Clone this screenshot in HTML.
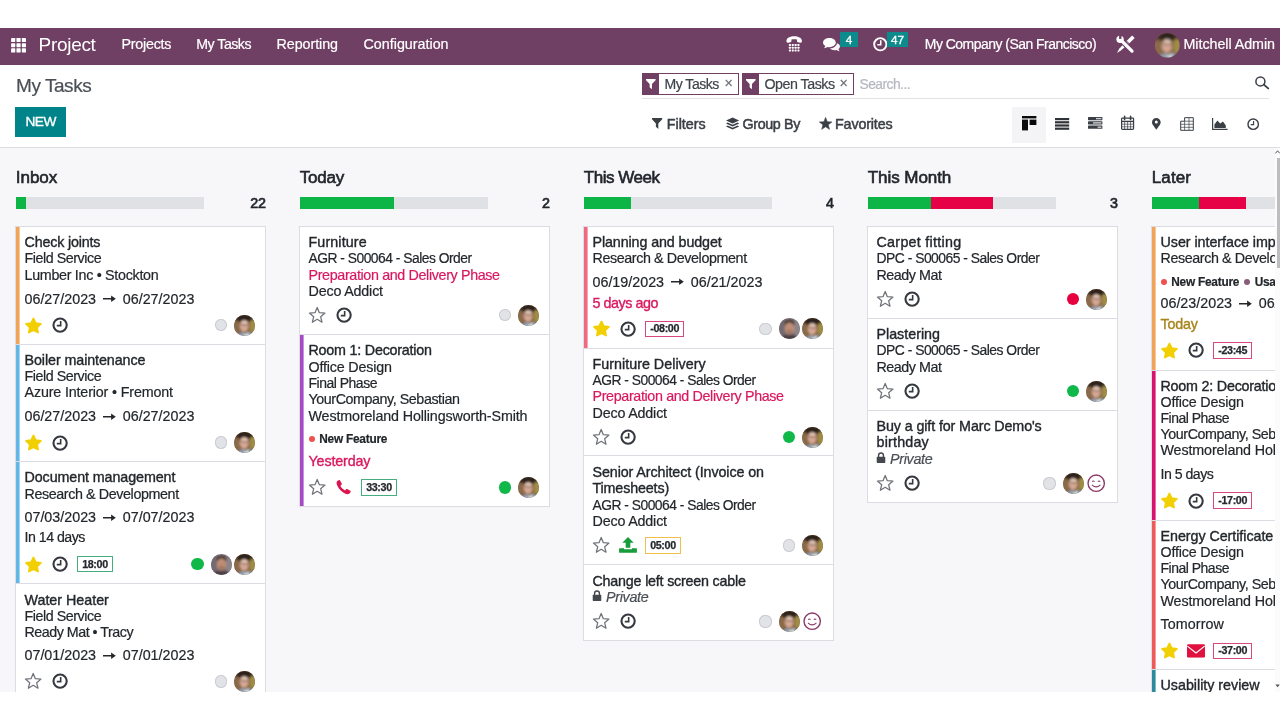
<!DOCTYPE html><html><head><meta charset="utf-8"><title>Odoo - My Tasks</title><style>
*{margin:0;padding:0;box-sizing:border-box}
html,body{width:1280px;height:720px;overflow:hidden;background:#fff}
body{font-family:"Liberation Sans",sans-serif;color:#23272b;-webkit-font-smoothing:antialiased}
#root{will-change:transform;position:absolute;left:0;top:0;width:1280px;height:720px;overflow:hidden;background:#fff}
.x{position:absolute;white-space:pre;display:block}
.i{position:absolute;overflow:visible}
#nav{position:absolute;left:0;top:28px;width:1280px;height:37.2px;background:#704064}
#cp{position:absolute;left:0;top:65.2px;width:1280px;height:82.4px;background:#fff;border-bottom:1px solid #dcdde2}
#board{position:absolute;left:0;top:148px;width:1275px;height:544px;background:#f7f7fa;overflow:hidden}
#bi{position:absolute;left:0;top:-148px;width:1500px;height:900px}
.card{position:absolute;width:251px;background:#fff;border:1px solid #dcdde3}
.bar{position:absolute;left:0;top:0;bottom:0;width:3px;display:block}
.bar:after{content:"";position:absolute;left:3px;top:0;bottom:0;width:1px;background:inherit;opacity:.6}
.dot{position:absolute;width:6px;height:6px;border-radius:50%;display:block}
.st{position:absolute;width:12.4px;height:12.4px;border-radius:50%;display:block}
.bdg{position:absolute;height:16.6px;border:1px solid;display:block;background:#fff}
.pb{position:absolute;height:11.8px;width:188px;background:#e0e1e5;top:197.3px;overflow:hidden}
.pb b{display:block;float:left;height:100%}
.pb .g{background:#0cb546}.pb .r{background:#e60046}
.facet{position:absolute;top:73.3px;height:21.5px;border:1px solid #704064;background:#fff}
.facet b{position:absolute;left:0;top:0;bottom:0;width:16.2px;background:#704064;display:block}
#sb{position:absolute;left:1275px;top:148px;width:5px;height:544px;background:#fbfbfc}
#sb b{position:absolute;left:2px;top:10px;width:3px;height:110px;background:#bdbdc0;display:block}
</style></head><body><div id="root">
<svg width="0" height="0" style="position:absolute">
<defs>
<filter id="bl" x="-10%" y="-10%" width="120%" height="120%"><feGaussianBlur stdDeviation="1.5"/></filter>
<clipPath id="cp"><circle cx="12" cy="12" r="12"/></clipPath>
<symbol id="starf" viewBox="0 0 20 20"><polygon points="10.50,2.70 13.03,7.92 18.77,8.71 14.59,12.73 15.61,18.44 10.50,15.70 5.39,18.44 6.41,12.73 2.23,8.71 7.97,7.92" fill="#f2cf00" stroke="#f2cf00" stroke-width="1.9" stroke-linejoin="round"/></symbol>
<symbol id="staro" viewBox="0 0 20 20"><polygon points="10.20,1.60 12.61,7.38 18.85,7.89 14.10,11.97 15.55,18.06 10.20,14.80 4.85,18.06 6.30,11.97 1.55,7.89 7.79,7.38" fill="none" stroke="#70747a" stroke-width="1.4" stroke-linejoin="round"/></symbol>
<symbol id="clock" viewBox="0 0 20 20"><circle cx="10" cy="10" r="8.2" fill="none" stroke="currentColor" stroke-width="2.6"/><path d="M10.7 4.8v5.9H5.9" fill="none" stroke="currentColor" stroke-width="2"/></symbol>
<symbol id="phone" viewBox="0 0 20 20"><path d="M3.2 2.2 C2 3 1.6 4.6 2.2 6.4 C3.8 11.2 8.6 16.2 13.6 17.8 C15.4 18.4 17 18 17.8 16.8 L18.6 15.4 C18.9 14.8 18.7 14.3 18.2 14 L14.6 12 C14.1 11.7 13.6 11.8 13.2 12.2 L12 13.6 C9.8 12.6 7.4 10.2 6.4 8 L7.8 6.8 C8.2 6.4 8.3 5.9 8 5.4 L6 1.8 C5.7 1.3 5.2 1.1 4.6 1.4 Z" fill="currentColor"/></symbol>
<symbol id="env" viewBox="0 0 20 15"><rect x="0" y="0" width="20" height="15" rx="1.6" fill="currentColor"/><path d="M0.4 2.2 L10 9.8 L19.6 2.2" fill="none" stroke="#fff" stroke-width="1.35" stroke-linejoin="round"/></symbol>
<symbol id="upload" viewBox="0 0 20 18"><path d="M10 0 L16.4 6.6 H12.6 V12 H7.4 V6.6 H3.6 Z" fill="currentColor"/><path d="M0.6 12.6 H5.6 V13.8 H14.4 V12.6 H19.4 Q20 12.6 20 13.2 V17.2 Q20 17.8 19.4 17.8 H0.6 Q0 17.8 0 17.2 V13.2 Q0 12.6 0.6 12.6 Z" fill="currentColor"/></symbol>
<symbol id="lock" viewBox="0 0 14 16"><path d="M3.6 7 V4.6 a3.4 3.4 0 0 1 6.8 0 V7" fill="none" stroke="currentColor" stroke-width="2"/><rect x="1" y="6.6" width="12" height="8.6" rx="1" fill="currentColor"/></symbol>
<symbol id="smile" viewBox="0 0 20 20"><circle cx="10" cy="10" r="8.9" fill="#fff" stroke="#8a3a68" stroke-width="1.5"/><path d="M5.6 8.2 q1.3-1.3 2.6 0 M11.8 8.2 q1.3-1.3 2.6 0" fill="none" stroke="#8a3a68" stroke-width="1.1"/><path d="M5.4 11.8 q4.6 4.4 9.2 0" fill="none" stroke="#8a3a68" stroke-width="1.2"/></symbol>
<symbol id="arrow" viewBox="0 0 14 8"><path d="M0 4 H10" stroke="currentColor" stroke-width="1.7"/><path d="M8.6 0.6 L13.6 4 L8.6 7.4 Z" fill="currentColor"/></symbol>
<symbol id="avA" viewBox="0 0 24 24"><g clip-path="url(#cp)"><rect width="24" height="24" fill="#7d5f3e"/><g filter="url(#bl)"><rect x="-2" y="-2" width="28" height="8" fill="#4a3626"/><rect x="-2" y="8" width="8" height="13" fill="#8a6a48"/><rect x="18" y="6" width="8" height="13" fill="#a08c44"/><ellipse cx="12" cy="4.8" rx="7.6" ry="4.8" fill="#2c211c"/><ellipse cx="11.6" cy="12.6" rx="5.2" ry="6.8" fill="#d2a592"/><ellipse cx="12" cy="8.6" rx="3.8" ry="2" fill="#e0c4b4"/><path d="M7.4 10.8 L16.6 11.4" stroke="#7c5c54" stroke-width="1.1"/><ellipse cx="10.8" cy="15.2" rx="2.4" ry="1.2" fill="#dca898"/><path d="M4 25 Q5 19.6 10 19.8 L12.6 21.6 L15.6 19.4 Q20.6 19.2 22 25 Z" fill="#8e9cb4"/><path d="M11 19.8 L13 22 L16.4 19.2 L17 25 H12 Z" fill="#cfdde4"/></g></g></symbol>
<symbol id="avB" viewBox="0 0 24 24"><g clip-path="url(#cp)"><rect width="24" height="24" fill="#80747a"/><g filter="url(#bl)"><rect x="-2" y="-2" width="9" height="28" fill="#756a72"/><rect x="17" y="3" width="9" height="22" fill="#8d8488"/><ellipse cx="12" cy="5.6" rx="6" ry="4" fill="#4e3e38"/><ellipse cx="12" cy="12" rx="5.3" ry="6.8" fill="#c08e76"/><ellipse cx="12" cy="15.6" rx="3.4" ry="2.4" fill="#a47660"/><path d="M2 25 Q3.6 18.8 9 19 H15 Q20.4 18.8 22 25 Z" fill="#4e4044"/></g></g></symbol>
</defs></svg>
<div id="board"><div id="bi"><span class="x" style="left:15.80px;top:168px;font-size:17.06px;line-height:20px;letter-spacing:-0.062px;color:#22262c;-webkit-text-stroke:0.6px">Inbox</span><span class="x" style="left:250.21px;top:195px;font-size:14.31px;line-height:17px;letter-spacing:-0.258px;color:#22262c;-webkit-text-stroke:0.65px">22</span><div class="pb" style="left:16px"><b class="g" style="width:9.5px"></b></div><span class="x" style="left:299.80px;top:168px;font-size:17.06px;line-height:20px;letter-spacing:-0.228px;color:#22262c;-webkit-text-stroke:0.6px">Today</span><span class="x" style="left:541.90px;top:195px;font-size:14.31px;line-height:17px;letter-spacing:-0.250px;color:#22262c;-webkit-text-stroke:0.65px">2</span><div class="pb" style="left:300px"><b class="g" style="width:94px"></b></div><span class="x" style="left:583.80px;top:168px;font-size:17.06px;line-height:20px;letter-spacing:-0.493px;color:#22262c;-webkit-text-stroke:0.6px">This Week</span><span class="x" style="left:825.90px;top:195px;font-size:14.31px;line-height:17px;letter-spacing:-0.250px;color:#22262c;-webkit-text-stroke:0.65px">4</span><div class="pb" style="left:584px"><b class="g" style="width:47px"></b></div><span class="x" style="left:867.80px;top:168px;font-size:17.06px;line-height:20px;letter-spacing:-0.091px;color:#22262c;-webkit-text-stroke:0.6px">This Month</span><span class="x" style="left:1109.90px;top:195px;font-size:14.31px;line-height:17px;letter-spacing:-0.250px;color:#22262c;-webkit-text-stroke:0.65px">3</span><div class="pb" style="left:868px"><b class="g" style="width:62.7px"></b><b class="r" style="width:62.7px"></b></div><span class="x" style="left:1151.80px;top:168px;font-size:17.06px;line-height:20px;letter-spacing:0.087px;color:#22262c;-webkit-text-stroke:0.6px">Later</span><span class="x" style="left:1386.21px;top:195px;font-size:14.31px;line-height:17px;letter-spacing:-0.258px;color:#22262c;-webkit-text-stroke:0.65px">12</span><div class="pb" style="left:1152px"><b class="g" style="width:47px"></b><b class="r" style="width:47px"></b></div><div class="card" style="left:15px;top:226px;height:119px"><b class="bar" style="background:#f0a45a"></b><span class="x" style="left:8.50px;top:7px;font-size:14.31px;line-height:17px;letter-spacing:-0.184px;-webkit-text-stroke:0.36px">Check joints</span><span class="x" style="left:8.50px;top:23px;font-size:14.31px;line-height:17px;letter-spacing:-0.460px;-webkit-text-stroke:0.2px">Field Service</span><span class="x" style="left:8.50px;top:40px;font-size:14.31px;line-height:17px;letter-spacing:-0.297px;-webkit-text-stroke:0.2px">Lumber Inc • Stockton</span><span class="x" style="left:8.50px;top:64px;font-size:14.31px;line-height:17px;-webkit-text-stroke:0.2px">06/27/2023</span><svg class="i" style="left:86.89px;top:68.30px;width:13.2px;height:7.6px;color:#23272b"><use href="#arrow"/></svg><span class="x" style="left:106.79px;top:64px;font-size:14.31px;line-height:17px;-webkit-text-stroke:0.2px">06/27/2023</span><svg class="i" style="left:8.10px;top:88.60px;width:18px;height:18px"><use href="#starf"/></svg><svg class="i" style="left:35.60px;top:89.90px;width:16.2px;height:16.2px;color:#363a40"><use href="#clock"/></svg><i class="st" style="left:198.60px;top:91.80px;background:#e2e3e7;box-shadow:inset 0 0 0 1px #cbccd2"></i><svg class="i" style="left:218.10px;top:87.50px;width:21px;height:21px"><use href="#avA"/></svg></div><div class="card" style="left:15px;top:344px;height:118px"><b class="bar" style="background:#63b7e6"></b><span class="x" style="left:8.50px;top:7px;font-size:14.31px;line-height:17px;letter-spacing:-0.082px;-webkit-text-stroke:0.36px">Boiler maintenance</span><span class="x" style="left:8.50px;top:23px;font-size:14.31px;line-height:17px;letter-spacing:-0.460px;-webkit-text-stroke:0.2px">Field Service</span><span class="x" style="left:8.50px;top:39px;font-size:14.31px;line-height:17px;letter-spacing:-0.149px;-webkit-text-stroke:0.2px">Azure Interior • Fremont</span><span class="x" style="left:8.50px;top:63px;font-size:14.31px;line-height:17px;-webkit-text-stroke:0.2px">06/27/2023</span><svg class="i" style="left:86.89px;top:67.80px;width:13.2px;height:7.6px;color:#23272b"><use href="#arrow"/></svg><span class="x" style="left:106.79px;top:63px;font-size:14.31px;line-height:17px;-webkit-text-stroke:0.2px">06/27/2023</span><svg class="i" style="left:8.10px;top:88.20px;width:18px;height:18px"><use href="#starf"/></svg><svg class="i" style="left:35.60px;top:89.50px;width:16.2px;height:16.2px;color:#363a40"><use href="#clock"/></svg><i class="st" style="left:198.60px;top:91.40px;background:#e2e3e7;box-shadow:inset 0 0 0 1px #cbccd2"></i><svg class="i" style="left:218.10px;top:87.10px;width:21px;height:21px"><use href="#avA"/></svg></div><div class="card" style="left:15px;top:461px;height:123px"><b class="bar" style="background:#63b7e6"></b><span class="x" style="left:8.50px;top:7px;font-size:14.31px;line-height:17px;letter-spacing:-0.094px;-webkit-text-stroke:0.36px">Document management</span><span class="x" style="left:8.50px;top:24px;font-size:14.31px;line-height:17px;letter-spacing:-0.395px;-webkit-text-stroke:0.2px">Research &amp; Development</span><span class="x" style="left:8.50px;top:47px;font-size:14.31px;line-height:17px;-webkit-text-stroke:0.2px">07/03/2023</span><svg class="i" style="left:86.89px;top:51.50px;width:13.2px;height:7.6px;color:#23272b"><use href="#arrow"/></svg><span class="x" style="left:106.79px;top:47px;font-size:14.31px;line-height:17px;-webkit-text-stroke:0.2px">07/07/2023</span><span class="x" style="left:8.50px;top:67px;font-size:14.18px;line-height:17px;letter-spacing:-0.500px;-webkit-text-stroke:0.2px">In 14 days</span><svg class="i" style="left:8.10px;top:92.70px;width:18px;height:18px"><use href="#starf"/></svg><svg class="i" style="left:35.60px;top:94.00px;width:16.2px;height:16.2px;color:#363a40"><use href="#clock"/></svg><i class="bdg" style="left:61.00px;top:93.90px;width:35.98px;border-color:#45ad7e"></i><span class="x" style="left:66.20px;top:96px;font-size:10.73px;line-height:13px;letter-spacing:-0.369px;font-weight:700;color:#25282c;-webkit-text-stroke:0.25px">18:00</span><i class="st" style="left:175.40px;top:95.90px;background:#0fb849"></i><svg class="i" style="left:194.90px;top:91.60px;width:21px;height:21px"><use href="#avB"/></svg><svg class="i" style="left:218.10px;top:91.60px;width:21px;height:21px"><use href="#avA"/></svg></div><div class="card" style="left:15px;top:583px;height:119px"><span class="x" style="left:8.50px;top:8px;font-size:14.31px;line-height:17px;letter-spacing:-0.012px;-webkit-text-stroke:0.36px">Water Heater</span><span class="x" style="left:8.50px;top:24px;font-size:14.31px;line-height:17px;letter-spacing:-0.460px;-webkit-text-stroke:0.2px">Field Service</span><span class="x" style="left:8.50px;top:40px;font-size:14.3px;line-height:17px;letter-spacing:-0.500px;-webkit-text-stroke:0.2px">Ready Mat • Tracy</span><span class="x" style="left:8.50px;top:63px;font-size:14.31px;line-height:17px;-webkit-text-stroke:0.2px">07/01/2023</span><svg class="i" style="left:86.89px;top:67.50px;width:13.2px;height:7.6px;color:#23272b"><use href="#arrow"/></svg><span class="x" style="left:106.79px;top:63px;font-size:14.31px;line-height:17px;-webkit-text-stroke:0.2px">07/01/2023</span><svg class="i" style="left:8.10px;top:88.10px;width:18px;height:18px"><use href="#staro"/></svg><svg class="i" style="left:35.60px;top:89.40px;width:16.2px;height:16.2px;color:#363a40"><use href="#clock"/></svg><i class="st" style="left:198.60px;top:91.30px;background:#e2e3e7;box-shadow:inset 0 0 0 1px #cbccd2"></i><svg class="i" style="left:218.10px;top:87.00px;width:21px;height:21px"><use href="#avA"/></svg></div><div class="card" style="left:299px;top:226px;height:109px"><span class="x" style="left:8.50px;top:7px;font-size:14.31px;line-height:17px;letter-spacing:0.113px;-webkit-text-stroke:0.36px">Furniture</span><span class="x" style="left:8.50px;top:23px;font-size:13.84px;line-height:17px;letter-spacing:-0.500px;-webkit-text-stroke:0.2px">AGR - S00064 - Sales Order</span><span class="x" style="left:8.50px;top:40px;font-size:14.31px;line-height:17px;letter-spacing:-0.355px;color:#d9195f;-webkit-text-stroke:0.2px">Preparation and Delivery Phase</span><span class="x" style="left:8.50px;top:56px;font-size:14.31px;line-height:17px;letter-spacing:-0.172px;-webkit-text-stroke:0.2px">Deco Addict</span><svg class="i" style="left:8.10px;top:78.90px;width:18px;height:18px"><use href="#staro"/></svg><svg class="i" style="left:35.60px;top:80.20px;width:16.2px;height:16.2px;color:#363a40"><use href="#clock"/></svg><i class="st" style="left:198.60px;top:82.10px;background:#e2e3e7;box-shadow:inset 0 0 0 1px #cbccd2"></i><svg class="i" style="left:218.10px;top:77.80px;width:21px;height:21px"><use href="#avA"/></svg></div><div class="card" style="left:299px;top:334px;height:173px"><b class="bar" style="background:#a54bc4"></b><span class="x" style="left:8.50px;top:7px;font-size:14.31px;line-height:17px;letter-spacing:-0.214px;-webkit-text-stroke:0.36px">Room 1: Decoration</span><span class="x" style="left:8.50px;top:24px;font-size:14.31px;line-height:17px;letter-spacing:-0.175px;-webkit-text-stroke:0.2px">Office Design</span><span class="x" style="left:8.50px;top:40px;font-size:14.01px;line-height:17px;letter-spacing:-0.500px;-webkit-text-stroke:0.2px">Final Phase</span><span class="x" style="left:8.50px;top:56px;font-size:14.31px;line-height:17px;letter-spacing:-0.438px;-webkit-text-stroke:0.2px">YourCompany, Sebastian</span><span class="x" style="left:8.50px;top:73px;font-size:14.31px;line-height:17px;letter-spacing:-0.129px;-webkit-text-stroke:0.2px">Westmoreland Hollingsworth-Smith</span><i class="dot" style="left:8.50px;top:101.00px;background:#f0504e"></i><span class="x" style="left:19.30px;top:97px;font-size:11.85px;line-height:14px;letter-spacing:-0.232px;font-weight:700;-webkit-text-stroke:0.2px">New Feature</span><span class="x" style="left:8.50px;top:118px;font-size:14.31px;line-height:17px;letter-spacing:-0.141px;color:#d9195f;-webkit-text-stroke:0.36px">Yesterday</span><svg class="i" style="left:8.10px;top:143.10px;width:18px;height:18px"><use href="#staro"/></svg><svg class="i" style="left:35.30px;top:143.60px;width:16.8px;height:16.8px;color:#dc1450"><use href="#phone"/></svg><i class="bdg" style="left:61.00px;top:144.30px;width:35.98px;border-color:#45ad7e"></i><span class="x" style="left:66.20px;top:146px;font-size:10.73px;line-height:13px;letter-spacing:-0.369px;font-weight:700;color:#25282c;-webkit-text-stroke:0.25px">33:30</span><i class="st" style="left:198.60px;top:146.30px;background:#0fb849"></i><svg class="i" style="left:218.10px;top:142.00px;width:21px;height:21px"><use href="#avA"/></svg></div><div class="card" style="left:583px;top:226px;height:123px"><b class="bar" style="background:#ee6a7e"></b><span class="x" style="left:8.50px;top:7px;font-size:14.31px;line-height:17px;letter-spacing:-0.105px;-webkit-text-stroke:0.36px">Planning and budget</span><span class="x" style="left:8.50px;top:23px;font-size:14.31px;line-height:17px;letter-spacing:-0.395px;-webkit-text-stroke:0.2px">Research &amp; Development</span><span class="x" style="left:8.50px;top:47px;font-size:14.31px;line-height:17px;-webkit-text-stroke:0.2px">06/19/2023</span><svg class="i" style="left:86.89px;top:51.30px;width:13.2px;height:7.6px;color:#23272b"><use href="#arrow"/></svg><span class="x" style="left:106.79px;top:47px;font-size:14.31px;line-height:17px;-webkit-text-stroke:0.2px">06/21/2023</span><span class="x" style="left:8.50px;top:68px;font-size:14.31px;line-height:17px;letter-spacing:-0.452px;color:#d9195f;-webkit-text-stroke:0.36px">5 days ago</span><svg class="i" style="left:8.10px;top:92.40px;width:18px;height:18px"><use href="#starf"/></svg><svg class="i" style="left:35.60px;top:93.70px;width:16.2px;height:16.2px;color:#363a40"><use href="#clock"/></svg><i class="bdg" style="left:61.00px;top:93.60px;width:39.32px;border-color:#d8477f"></i><span class="x" style="left:66.20px;top:95px;font-size:10.73px;line-height:13px;letter-spacing:-0.344px;font-weight:700;color:#25282c;-webkit-text-stroke:0.25px">-08:00</span><i class="st" style="left:175.40px;top:95.60px;background:#e2e3e7;box-shadow:inset 0 0 0 1px #cbccd2"></i><svg class="i" style="left:194.90px;top:91.30px;width:21px;height:21px"><use href="#avB"/></svg><svg class="i" style="left:218.10px;top:91.30px;width:21px;height:21px"><use href="#avA"/></svg></div><div class="card" style="left:583px;top:348px;height:108px"><span class="x" style="left:8.50px;top:7px;font-size:14.31px;line-height:17px;letter-spacing:0.019px;-webkit-text-stroke:0.36px">Furniture Delivery</span><span class="x" style="left:8.50px;top:23px;font-size:13.84px;line-height:17px;letter-spacing:-0.500px;-webkit-text-stroke:0.2px">AGR - S00064 - Sales Order</span><span class="x" style="left:8.50px;top:39px;font-size:14.31px;line-height:17px;letter-spacing:-0.355px;color:#d9195f;-webkit-text-stroke:0.2px">Preparation and Delivery Phase</span><span class="x" style="left:8.50px;top:56px;font-size:14.31px;line-height:17px;letter-spacing:-0.172px;-webkit-text-stroke:0.2px">Deco Addict</span><svg class="i" style="left:8.10px;top:78.70px;width:18px;height:18px"><use href="#staro"/></svg><svg class="i" style="left:35.60px;top:80.00px;width:16.2px;height:16.2px;color:#363a40"><use href="#clock"/></svg><i class="st" style="left:198.60px;top:81.90px;background:#0fb849"></i><svg class="i" style="left:218.10px;top:77.60px;width:21px;height:21px"><use href="#avA"/></svg></div><div class="card" style="left:583px;top:455px;height:110px"><span class="x" style="left:8.50px;top:8px;font-size:14.31px;line-height:17px;letter-spacing:-0.092px;-webkit-text-stroke:0.36px">Senior Architect (Invoice on</span><span class="x" style="left:8.50px;top:24px;font-size:14.31px;line-height:17px;letter-spacing:-0.146px;-webkit-text-stroke:0.36px">Timesheets)</span><span class="x" style="left:8.50px;top:41px;font-size:13.84px;line-height:17px;letter-spacing:-0.500px;-webkit-text-stroke:0.2px">AGR - S00064 - Sales Order</span><span class="x" style="left:8.50px;top:57px;font-size:14.31px;line-height:17px;letter-spacing:-0.172px;-webkit-text-stroke:0.2px">Deco Addict</span><svg class="i" style="left:8.10px;top:80.00px;width:18px;height:18px"><use href="#staro"/></svg><svg class="i" style="left:34.80px;top:81.00px;width:18px;height:16px;color:#169c3a"><use href="#upload"/></svg><i class="bdg" style="left:61.00px;top:81.20px;width:35.98px;border-color:#f0c04c"></i><span class="x" style="left:66.20px;top:83px;font-size:10.73px;line-height:13px;letter-spacing:-0.369px;font-weight:700;color:#25282c;-webkit-text-stroke:0.25px">05:00</span><i class="st" style="left:198.60px;top:83.20px;background:#e2e3e7;box-shadow:inset 0 0 0 1px #cbccd2"></i><svg class="i" style="left:218.10px;top:78.90px;width:21px;height:21px"><use href="#avA"/></svg></div><div class="card" style="left:583px;top:564px;height:77px"><span class="x" style="left:8.50px;top:8px;font-size:14.31px;line-height:17px;letter-spacing:-0.204px;-webkit-text-stroke:0.36px">Change left screen cable</span><svg class="i" style="left:8.00px;top:25.40px;width:10px;height:11.6px;color:#45494f"><use href="#lock"/></svg><span class="x" style="left:21.90px;top:24px;font-size:14.31px;line-height:17px;letter-spacing:-0.270px;font-style:italic;color:#4a4f55;-webkit-text-stroke:0.2px">Private</span><svg class="i" style="left:8.10px;top:47.00px;width:18px;height:18px"><use href="#staro"/></svg><svg class="i" style="left:35.60px;top:48.30px;width:16.2px;height:16.2px;color:#363a40"><use href="#clock"/></svg><i class="st" style="left:175.40px;top:50.20px;background:#e2e3e7;box-shadow:inset 0 0 0 1px #cbccd2"></i><svg class="i" style="left:194.90px;top:45.90px;width:21px;height:21px"><use href="#avA"/></svg><svg class="i" style="left:219.40px;top:47.20px;width:18.4px;height:18.4px"><use href="#smile"/></svg></div><div class="card" style="left:867px;top:226px;height:93px"><span class="x" style="left:8.50px;top:7px;font-size:14.31px;line-height:17px;letter-spacing:0.281px;-webkit-text-stroke:0.36px">Carpet fitting</span><span class="x" style="left:8.50px;top:23px;font-size:13.89px;line-height:17px;letter-spacing:-0.500px;-webkit-text-stroke:0.2px">DPC - S00065 - Sales Order</span><span class="x" style="left:8.50px;top:40px;font-size:14.31px;line-height:17px;letter-spacing:-0.469px;-webkit-text-stroke:0.2px">Ready Mat</span><svg class="i" style="left:8.10px;top:62.80px;width:18px;height:18px"><use href="#staro"/></svg><svg class="i" style="left:35.60px;top:64.10px;width:16.2px;height:16.2px;color:#363a40"><use href="#clock"/></svg><i class="st" style="left:198.60px;top:66.00px;background:#e6003f"></i><svg class="i" style="left:218.10px;top:61.70px;width:21px;height:21px"><use href="#avA"/></svg></div><div class="card" style="left:867px;top:318px;height:93px"><span class="x" style="left:8.50px;top:7px;font-size:14.31px;line-height:17px;letter-spacing:-0.014px;-webkit-text-stroke:0.36px">Plastering</span><span class="x" style="left:8.50px;top:23px;font-size:13.89px;line-height:17px;letter-spacing:-0.500px;-webkit-text-stroke:0.2px">DPC - S00065 - Sales Order</span><span class="x" style="left:8.50px;top:40px;font-size:14.31px;line-height:17px;letter-spacing:-0.469px;-webkit-text-stroke:0.2px">Ready Mat</span><svg class="i" style="left:8.10px;top:62.70px;width:18px;height:18px"><use href="#staro"/></svg><svg class="i" style="left:35.60px;top:64.00px;width:16.2px;height:16.2px;color:#363a40"><use href="#clock"/></svg><i class="st" style="left:198.60px;top:65.90px;background:#0fb849"></i><svg class="i" style="left:218.10px;top:61.60px;width:21px;height:21px"><use href="#avA"/></svg></div><div class="card" style="left:867px;top:410px;height:93px"><span class="x" style="left:8.50px;top:7px;font-size:14.31px;line-height:17px;letter-spacing:-0.109px;-webkit-text-stroke:0.36px">Buy a gift for Marc Demo&#x27;s</span><span class="x" style="left:8.50px;top:23px;font-size:14.31px;line-height:17px;letter-spacing:0.197px;-webkit-text-stroke:0.36px">birthday</span><svg class="i" style="left:8.00px;top:41.40px;width:10px;height:11.6px;color:#45494f"><use href="#lock"/></svg><span class="x" style="left:21.90px;top:40px;font-size:14.31px;line-height:17px;letter-spacing:-0.270px;font-style:italic;color:#4a4f55;-webkit-text-stroke:0.2px">Private</span><svg class="i" style="left:8.10px;top:63.00px;width:18px;height:18px"><use href="#staro"/></svg><svg class="i" style="left:35.60px;top:64.30px;width:16.2px;height:16.2px;color:#363a40"><use href="#clock"/></svg><i class="st" style="left:175.40px;top:66.20px;background:#e2e3e7;box-shadow:inset 0 0 0 1px #cbccd2"></i><svg class="i" style="left:194.90px;top:61.90px;width:21px;height:21px"><use href="#avA"/></svg><svg class="i" style="left:219.40px;top:63.20px;width:18.4px;height:18.4px"><use href="#smile"/></svg></div><div class="card" style="left:1151px;top:226px;height:145px"><b class="bar" style="background:#f0a45a"></b><span class="x" style="left:8.50px;top:7px;font-size:14.31px;line-height:17px;letter-spacing:-0.042px;-webkit-text-stroke:0.36px">User interface improvements</span><span class="x" style="left:8.50px;top:23px;font-size:14.31px;line-height:17px;letter-spacing:-0.395px;-webkit-text-stroke:0.2px">Research &amp; Development</span><i class="dot" style="left:8.50px;top:51.70px;background:#f0504e"></i><span class="x" style="left:19.30px;top:48px;font-size:11.85px;line-height:14px;letter-spacing:-0.232px;font-weight:700;-webkit-text-stroke:0.2px">New Feature</span><i class="dot" style="left:91.99px;top:51.70px;background:#8a5c7c"></i><span class="x" style="left:102.79px;top:48px;font-size:11.85px;line-height:14px;letter-spacing:-0.285px;font-weight:700;-webkit-text-stroke:0.2px">Usability</span><span class="x" style="left:8.50px;top:68px;font-size:14.31px;line-height:17px;-webkit-text-stroke:0.2px">06/23/2023</span><svg class="i" style="left:86.89px;top:72.80px;width:13.2px;height:7.6px;color:#23272b"><use href="#arrow"/></svg><span class="x" style="left:106.79px;top:68px;font-size:14.31px;line-height:17px;-webkit-text-stroke:0.2px">06/25/2023</span><span class="x" style="left:8.50px;top:89px;font-size:14.31px;line-height:17px;letter-spacing:-0.191px;color:#a8851c;-webkit-text-stroke:0.36px">Today</span><svg class="i" style="left:8.10px;top:114.10px;width:18px;height:18px"><use href="#starf"/></svg><svg class="i" style="left:35.60px;top:115.40px;width:16.2px;height:16.2px;color:#363a40"><use href="#clock"/></svg><i class="bdg" style="left:61.00px;top:115.30px;width:39.32px;border-color:#d8477f"></i><span class="x" style="left:66.20px;top:117px;font-size:10.73px;line-height:13px;letter-spacing:-0.344px;font-weight:700;color:#25282c;-webkit-text-stroke:0.25px">-23:45</span><i class="st" style="left:198.60px;top:117.30px;background:#e2e3e7;box-shadow:inset 0 0 0 1px #cbccd2"></i><svg class="i" style="left:218.10px;top:113.00px;width:21px;height:21px"><use href="#avA"/></svg></div><div class="card" style="left:1151px;top:370px;height:151px"><b class="bar" style="background:#d6146e"></b><span class="x" style="left:8.50px;top:7px;font-size:14.31px;line-height:17px;letter-spacing:-0.214px;-webkit-text-stroke:0.36px">Room 2: Decoration</span><span class="x" style="left:8.50px;top:23px;font-size:14.31px;line-height:17px;letter-spacing:-0.175px;-webkit-text-stroke:0.2px">Office Design</span><span class="x" style="left:8.50px;top:39px;font-size:14.01px;line-height:17px;letter-spacing:-0.500px;-webkit-text-stroke:0.2px">Final Phase</span><span class="x" style="left:8.50px;top:55px;font-size:14.31px;line-height:17px;letter-spacing:-0.438px;-webkit-text-stroke:0.2px">YourCompany, Sebastian</span><span class="x" style="left:8.50px;top:71px;font-size:14.31px;line-height:17px;letter-spacing:-0.129px;-webkit-text-stroke:0.2px">Westmoreland Hollingsworth-Smith</span><span class="x" style="left:8.50px;top:95px;font-size:14.11px;line-height:17px;letter-spacing:-0.500px;-webkit-text-stroke:0.2px">In 5 days</span><svg class="i" style="left:8.10px;top:120.20px;width:18px;height:18px"><use href="#starf"/></svg><svg class="i" style="left:35.60px;top:121.50px;width:16.2px;height:16.2px;color:#363a40"><use href="#clock"/></svg><i class="bdg" style="left:61.00px;top:121.40px;width:39.32px;border-color:#d8477f"></i><span class="x" style="left:66.20px;top:123px;font-size:10.73px;line-height:13px;letter-spacing:-0.344px;font-weight:700;color:#25282c;-webkit-text-stroke:0.25px">-17:00</span><i class="st" style="left:198.60px;top:123.40px;background:#e2e3e7;box-shadow:inset 0 0 0 1px #cbccd2"></i><svg class="i" style="left:218.10px;top:119.10px;width:21px;height:21px"><use href="#avA"/></svg></div><div class="card" style="left:1151px;top:520px;height:150px"><b class="bar" style="background:#ee5a5a"></b><span class="x" style="left:8.50px;top:7px;font-size:14.31px;line-height:17px;letter-spacing:-0.049px;-webkit-text-stroke:0.36px">Energy Certificate</span><span class="x" style="left:8.50px;top:23px;font-size:14.31px;line-height:17px;letter-spacing:-0.175px;-webkit-text-stroke:0.2px">Office Design</span><span class="x" style="left:8.50px;top:39px;font-size:14.01px;line-height:17px;letter-spacing:-0.500px;-webkit-text-stroke:0.2px">Final Phase</span><span class="x" style="left:8.50px;top:55px;font-size:14.31px;line-height:17px;letter-spacing:-0.438px;-webkit-text-stroke:0.2px">YourCompany, Sebastian</span><span class="x" style="left:8.50px;top:72px;font-size:14.31px;line-height:17px;letter-spacing:-0.129px;-webkit-text-stroke:0.2px">Westmoreland Hollingsworth-Smith</span><span class="x" style="left:8.50px;top:95px;font-size:14.31px;line-height:17px;letter-spacing:0.098px;-webkit-text-stroke:0.2px">Tomorrow</span><svg class="i" style="left:8.10px;top:120.30px;width:18px;height:18px"><use href="#starf"/></svg><svg class="i" style="left:34.80px;top:122.80px;width:18px;height:13.8px;color:#e0103f"><use href="#env"/></svg><i class="bdg" style="left:61.00px;top:121.50px;width:39.32px;border-color:#d8477f"></i><span class="x" style="left:66.20px;top:123px;font-size:10.73px;line-height:13px;letter-spacing:-0.344px;font-weight:700;color:#25282c;-webkit-text-stroke:0.25px">-37:00</span><i class="st" style="left:198.60px;top:123.50px;background:#e2e3e7;box-shadow:inset 0 0 0 1px #cbccd2"></i><svg class="i" style="left:218.10px;top:119.20px;width:21px;height:21px"><use href="#avA"/></svg></div><div class="card" style="left:1151px;top:669px;height:132px"><b class="bar" style="background:#2b8a9b"></b><span class="x" style="left:8.50px;top:7px;font-size:14.31px;line-height:17px;letter-spacing:-0.014px;-webkit-text-stroke:0.36px">Usability review</span><span class="x" style="left:8.50px;top:23px;font-size:14.31px;line-height:17px;letter-spacing:-0.395px;-webkit-text-stroke:0.2px">Research &amp; Development</span></div></div></div><div id="sb"><b></b><svg class="i" style="left:0;top:2px;width:5px;height:4px" viewBox="0 0 5 4"><path d="M0.4 3.4 L2.6 0.8 L4.8 3.4" fill="none" stroke="#55585e" stroke-width="1"/></svg><svg class="i" style="left:0;top:536px;width:5px;height:4px" viewBox="0 0 5 4"><path d="M0.4 0.6 L2.6 3.2 L4.8 0.6 Z" fill="#55585e"/></svg></div><div id="nav"></div><svg class='i' style='left:10.80px;top:37.90px;width:15.10px;height:14.40px' viewBox='0 0 15 14.5' fill='#fff'><rect x='0.0' y='0.0' width='4.2' height='4.1' rx='0.5'/><rect x='5.4' y='0.0' width='4.2' height='4.1' rx='0.5'/><rect x='10.8' y='0.0' width='4.2' height='4.1' rx='0.5'/><rect x='0.0' y='5.2' width='4.2' height='4.1' rx='0.5'/><rect x='5.4' y='5.2' width='4.2' height='4.1' rx='0.5'/><rect x='10.8' y='5.2' width='4.2' height='4.1' rx='0.5'/><rect x='0.0' y='10.4' width='4.2' height='4.1' rx='0.5'/><rect x='5.4' y='10.4' width='4.2' height='4.1' rx='0.5'/><rect x='10.8' y='10.4' width='4.2' height='4.1' rx='0.5'/></svg><svg class='i' style='left:786.20px;top:36.20px;width:16.40px;height:15.90px' viewBox='0 0 16.4 16' fill='#fff'><path d='M0.4 5.4 C0.2 1.6 4.4 0.2 8.2 0.2 C12 0.2 16.2 1.6 16 5.4 C16 6.6 15.2 7 14.2 6.8 L12 6.3 C11.2 6.1 11 5.6 11 4.8 L11 3.6 C9.2 3 7.2 3 5.4 3.6 L5.4 4.8 C5.4 5.6 5.2 6.1 4.4 6.3 L2.2 6.8 C1.2 7 0.4 6.6 0.4 5.4 Z'/><path d='M5.2 5.6 H11.2 L13.2 9 V15.2 Q13.2 16 12.4 16 H4 Q3.2 16 3.2 15.2 V9 Z' fill='#fff' opacity='0'/><rect x='2.90' y='8.10' width='2.05' height='1.9' rx='0.4'/><rect x='5.75' y='8.10' width='2.05' height='1.9' rx='0.4'/><rect x='8.60' y='8.10' width='2.05' height='1.9' rx='0.4'/><rect x='11.45' y='8.10' width='2.05' height='1.9' rx='0.4'/><rect x='2.90' y='10.85' width='2.05' height='1.9' rx='0.4'/><rect x='5.75' y='10.85' width='2.05' height='1.9' rx='0.4'/><rect x='8.60' y='10.85' width='2.05' height='1.9' rx='0.4'/><rect x='11.45' y='10.85' width='2.05' height='1.9' rx='0.4'/><rect x='2.90' y='13.60' width='2.05' height='1.9' rx='0.4'/><rect x='5.75' y='13.60' width='2.05' height='1.9' rx='0.4'/><rect x='8.60' y='13.60' width='2.05' height='1.9' rx='0.4'/><rect x='11.45' y='13.60' width='2.05' height='1.9' rx='0.4'/></svg><svg class='i' style='left:823.20px;top:37.80px;width:17.00px;height:13.80px' viewBox='0 0 17 13.8' fill='#fff'><path d='M6.4 0 C2.9 0 0 2 0 4.6 C0 6 0.9 7.3 2.3 8.1 C2.1 8.9 1.6 9.7 0.9 10.3 C2.3 10.2 3.6 9.7 4.6 9 C5.2 9.1 5.8 9.2 6.4 9.2 C9.9 9.2 12.8 7.2 12.8 4.6 C12.8 2 9.9 0 6.4 0 Z'/><path d='M13.9 5.2 C13.7 8 10.6 10.2 6.9 10.3 C7.9 11.5 9.7 12.2 11.6 12.2 C12.2 12.2 12.8 12.1 13.3 12 C14.3 12.7 15.5 13.2 16.8 13.3 C16.2 12.7 15.7 11.9 15.5 11.1 C16.4 10.4 17 9.4 17 8.3 C17 7 15.8 5.8 13.9 5.2 Z' opacity='0.95'/></svg><i style='position:absolute;display:block;background:#0c8a8c;left:840.00px;top:32.30px;width:17.70px;height:14.70px'></i><svg class='i' style='left:873.40px;top:37.00px;width:14.60px;height:14.60px' viewBox='0 0 20 20' color='#fff'><circle cx='10' cy='10' r='8.4' fill='none' stroke='#fff' stroke-width='2.6'/><path d='M10.6 4.6v6H5.8' fill='none' stroke='#fff' stroke-width='2.1'/></svg><i style='position:absolute;display:block;background:#0c8a8c;left:886.80px;top:32.30px;width:21.20px;height:14.90px'></i><svg class='i' style='left:1116.40px;top:34.80px;width:18.80px;height:18.60px' viewBox='0 0 19 18.6'><path d='M17.6 1.6 L12.2 7' stroke='#fff' stroke-width='3.7' fill='none'/><path d='M10.4 6.4 L12.8 8.8 L5.2 15.4 L1 18 L3.4 13.6 Z' fill='#fff'/><path d='M5 5 L16.4 16.4' stroke='#704064' stroke-width='5.4' stroke-linecap='round' fill='none'/><path d='M5 5 L16.2 16.2' stroke='#fff' stroke-width='3.3' stroke-linecap='round' fill='none'/><circle cx='4.1' cy='4.3' r='3.7' fill='#fff'/><path d='M4.6 -0.6 L4.2 3.9' stroke='#704064' stroke-width='2.5' fill='none'/></svg><svg class='i' style='left:1154.80px;top:32.60px;width:24.60px;height:24.60px'><use href='#avA'/></svg><span class="x" style="left:38.60px;top:33px;font-size:19.01px;line-height:23px;letter-spacing:-0.306px;color:#fff">Project</span><span class="x" style="left:121.50px;top:36px;font-size:14.31px;line-height:17px;letter-spacing:-0.245px;color:#fff;-webkit-text-stroke:0.2px">Projects</span><span class="x" style="left:196.30px;top:36px;font-size:14.16px;line-height:17px;letter-spacing:-0.500px;color:#fff;-webkit-text-stroke:0.2px">My Tasks</span><span class="x" style="left:276.50px;top:36px;font-size:14.31px;line-height:17px;letter-spacing:-0.056px;color:#fff;-webkit-text-stroke:0.2px">Reporting</span><span class="x" style="left:363.50px;top:36px;font-size:14.31px;line-height:17px;color:#fff;-webkit-text-stroke:0.2px">Configuration</span><span class="x" style="left:924.80px;top:36px;font-size:13.95px;line-height:17px;letter-spacing:-0.500px;color:#fff;-webkit-text-stroke:0.2px">My Company (San Francisco)</span><span class="x" style="left:1183.50px;top:36px;font-size:14.31px;line-height:17px;letter-spacing:-0.048px;color:#fff;-webkit-text-stroke:0.2px">Mitchell Admin</span><span class="x" style="left:845.70px;top:33px;font-size:11.75px;line-height:14px;letter-spacing:-0.347px;color:#fff;-webkit-text-stroke:0.36px">4</span><span class="x" style="left:890.90px;top:33px;font-size:11.75px;line-height:14px;letter-spacing:-0.039px;color:#fff;-webkit-text-stroke:0.36px">47</span><div id="cp"></div><i style='position:absolute;display:block;background:#01838a;left:15.20px;top:106.60px;width:50.80px;height:30.60px'></i><div class='facet' style='left:642.0px;width:96.8px'><b></b><svg class='i' style='left:3.2px;top:4.6px;width:9.6px;height:10.4px' viewBox='0 0 10 10.8' fill='#fff'><path d='M0 0 H10 V1.2 L6.2 5.2 V10.6 L3.8 8.6 V5.2 L0 1.2 Z'/></svg></div><div class='facet' style='left:741.8px;width:112.0px'><b></b><svg class='i' style='left:3.2px;top:4.6px;width:9.6px;height:10.4px' viewBox='0 0 10 10.8' fill='#fff'><path d='M0 0 H10 V1.2 L6.2 5.2 V10.6 L3.8 8.6 V5.2 L0 1.2 Z'/></svg></div><i style='position:absolute;display:block;background:#e1e2e6;left:642px;top:97.6px;width:626.6px;height:1.2px'></i><svg class='i' style='left:1255.20px;top:76.40px;width:14.00px;height:13.00px' viewBox='0 0 14 13' fill='none' stroke='#3a3f46'><circle cx='5.4' cy='5.4' r='4.5' stroke-width='1.5'/><path d='M8.8 8.6 L13.2 12.4' stroke-width='1.9' stroke-linecap='round'/></svg><svg class='i' style='left:652.40px;top:118.40px;width:10.20px;height:11.20px' viewBox='0 0 10 10.8' fill='#3a3f46'><path d='M0 0 H10 V1.2 L6.2 5.2 V10.6 L3.8 8.6 V5.2 L0 1.2 Z'/></svg><svg class='i' style='left:725.60px;top:116.60px;width:13.20px;height:13.60px' viewBox='0 0 14 14' fill='#3a3f46'><path d='M7 0.2 L14 3.4 L7 6.6 L0 3.4 Z'/><path d='M1.8 5.6 L0 6.6 L7 9.8 L14 6.6 L12.2 5.6 L7 8 Z'/><path d='M1.8 8.8 L0 9.8 L7 13 L14 9.8 L12.2 8.8 L7 11.2 Z'/></svg><svg class='i' style='left:819.00px;top:116.60px;width:13.20px;height:13.20px' viewBox='0 0 13.2 13.2' fill='#3a3f46'><polygon points='6.60,0.40 8.25,4.73 12.88,4.96 9.26,7.87 10.48,12.34 6.60,9.80 2.72,12.34 3.94,7.87 0.32,4.96 4.95,4.73' stroke='#3a3f46' stroke-width='0.6' stroke-linejoin='round'/></svg><i style='position:absolute;display:block;background:#f4f4f6;left:1012.20px;top:106.60px;width:34.20px;height:36.00px'></i><svg class='i' style='left:1022.40px;top:116.20px;width:14.40px;height:14.40px' viewBox='0 0 14.4 14.4' fill='#0a0a0c'><rect x='0' y='0' width='14.4' height='2.4'/><rect x='0' y='3.6' width='6' height='10.8'/><rect x='7.6' y='3.6' width='6.8' height='5.4'/></svg><svg class='i' style='left:1055.20px;top:117.80px;width:14.20px;height:11.80px' viewBox='0 0 14.2 11.8' fill='#2f3338'><rect y='0' width='14.2' height='2.2'/><rect y='3.2' width='14.2' height='2.2'/><rect y='6.4' width='14.2' height='2.2'/><rect y='9.6' width='14.2' height='2.2'/></svg><svg class='i' style='left:1088.00px;top:117.40px;width:14.40px;height:11.80px' viewBox='0 0 14.4 11.8'><rect y='0' width='14.4' height='3.2' rx='0.4' fill='#3a3f46'/><rect y='4.3' width='14.4' height='3.2' rx='0.4' fill='#3a3f46'/><rect y='8.6' width='14.4' height='3.2' rx='0.4' fill='#3a3f46'/><rect x='8' y='0.9' width='5.4' height='1.4' fill='#c9cbd0'/><rect x='5' y='5.2' width='8.4' height='1.4' fill='#c9cbd0'/><rect x='9.6' y='9.5' width='3.8' height='1.4' fill='#c9cbd0'/></svg><svg class='i' style='left:1121.00px;top:116.20px;width:13.20px;height:14.00px' viewBox='0 0 13.2 14' fill='none' stroke='#3a3f46'><rect x='0.6' y='2.2' width='12' height='11.2' rx='0.8' stroke-width='1.2'/><path d='M0.6 5.4 H12.6' stroke-width='1.4'/><path d='M3.6 5.4 V13.4 M6.6 5.4 V13.4 M9.6 5.4 V13.4 M0.6 8.2 H12.6 M0.6 10.8 H12.6' stroke-width='0.7'/><path d='M3.6 0.4 V3.4 M9.6 0.4 V3.4' stroke-width='1.6' stroke-linecap='round'/></svg><svg class='i' style='left:1152.40px;top:117.80px;width:8.60px;height:11.80px' viewBox='0 0 8.6 11.8'><path d='M4.3 0 C1.9 0 0 1.9 0 4.2 C0 5.2 0.3 5.9 0.7 6.7 L4.3 11.8 L7.9 6.7 C8.3 5.9 8.6 5.2 8.6 4.2 C8.6 1.9 6.7 0 4.3 0 Z' fill='#3a3f46'/><circle cx='4.3' cy='4.1' r='1.5' fill='#fff'/></svg><svg class='i' style='left:1179.80px;top:116.60px;width:14.00px;height:14.00px' viewBox='0 0 14 14' fill='none' stroke='#3a3f46'><path d='M4.6 0.7 H13.3 V13.3 H0.7 V4.2 H4.6 Z' stroke-width='1.0'/><path d='M4.6 4.2 H13.3 M0.7 7.3 H13.3 M0.7 10.3 H13.3 M4.6 4.2 V13.3 M9 0.7 V13.3' stroke-width='0.7'/></svg><svg class='i' style='left:1212.00px;top:117.60px;width:15.60px;height:12.00px' viewBox='0 0 15.6 12'><path d='M0.6 0 V11.4 H15.6' fill='none' stroke='#3a3f46' stroke-width='1.2'/><path d='M2.4 10 V6.6 L5.4 2.6 L8.2 5.6 L11 3.4 L13.8 7.4 V10 Z' fill='#3a3f46'/></svg><svg class='i' style='left:1246.60px;top:117.60px;width:12.40px;height:12.40px' viewBox='0 0 20 20'><circle cx='10' cy='10' r='8.4' fill='none' stroke='#3a3f46' stroke-width='2.3'/><path d='M10.6 5v5.6H6' fill='none' stroke='#3a3f46' stroke-width='1.9'/></svg><span class="x" style="left:16.00px;top:74px;font-size:19.01px;line-height:23px;letter-spacing:-0.443px;color:#4a4f57;-webkit-text-stroke:0.2px">My Tasks</span><span class="x" style="left:25.50px;top:114px;font-size:13.68px;line-height:16px;letter-spacing:-0.500px;color:#fff;-webkit-text-stroke:0.35px">NEW</span><span class="x" style="left:664.50px;top:76px;font-size:14.05px;line-height:17px;letter-spacing:-0.500px;color:#3f444b;-webkit-text-stroke:0.2px">My Tasks</span><span class="x" style="left:724.60px;top:75px;font-size:14.31px;line-height:17px;letter-spacing:-0.159px;color:#6a6f76;-webkit-text-stroke:0.2px">×</span><span class="x" style="left:764.50px;top:76px;font-size:14.27px;line-height:17px;letter-spacing:-0.500px;color:#3f444b;-webkit-text-stroke:0.2px">Open Tasks</span><span class="x" style="left:839.60px;top:75px;font-size:14.31px;line-height:17px;letter-spacing:-0.159px;color:#6a6f76;-webkit-text-stroke:0.2px">×</span><span class="x" style="left:859.50px;top:76px;font-size:13.76px;line-height:17px;letter-spacing:-0.500px;color:#b4b7bd;-webkit-text-stroke:0.2px">Search...</span><span class="x" style="left:666.75px;top:116px;font-size:14.31px;line-height:17px;letter-spacing:0.011px;color:#3a3f46;-webkit-text-stroke:0.5px">Filters</span><span class="x" style="left:742.50px;top:116px;font-size:14.31px;line-height:17px;letter-spacing:-0.363px;color:#3a3f46;-webkit-text-stroke:0.5px">Group By</span><span class="x" style="left:835.00px;top:116px;font-size:14.31px;line-height:17px;letter-spacing:-0.144px;color:#3a3f46;-webkit-text-stroke:0.5px">Favorites</span></div></body></html>
